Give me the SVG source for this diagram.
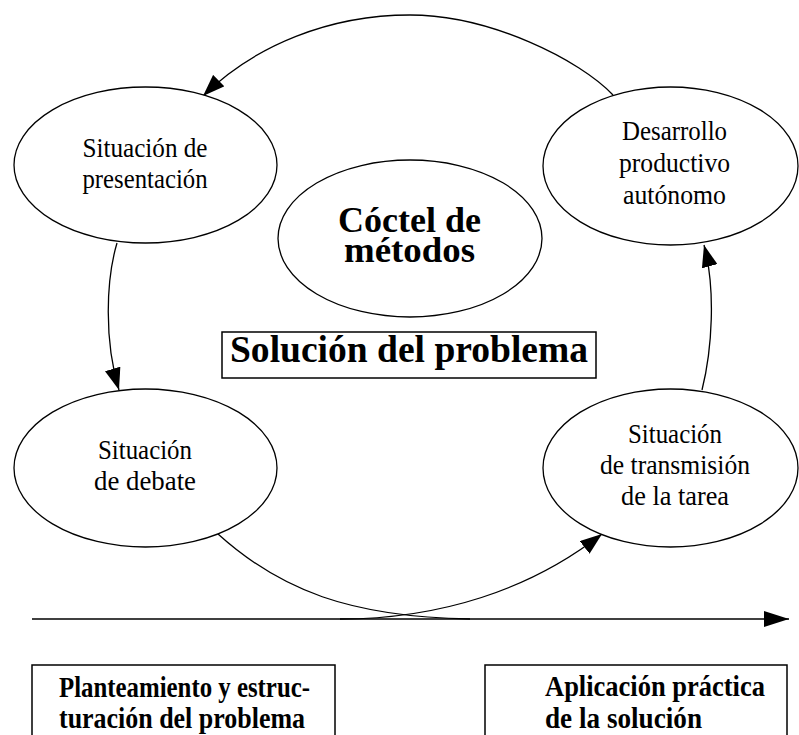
<svg xmlns="http://www.w3.org/2000/svg" width="799" height="735" viewBox="0 0 799 735">
<style>
.node ellipse{fill:#fff;stroke:#000;stroke-width:1.3}
.reg{font-family:"Liberation Serif","Times New Roman",serif;font-size:27px;text-anchor:middle;fill:#000}
.bold{font-family:"Liberation Serif","Times New Roman",serif;font-weight:bold;fill:#000}
.box{fill:#fff;stroke:#000;stroke-width:1.5}
.conn path,.conn line{fill:none;stroke:#000;stroke-width:1.3}
</style>
<defs>
<marker id="ah" viewBox="0 0 22 16" refX="22" refY="8" markerWidth="22" markerHeight="16" markerUnits="userSpaceOnUse" orient="auto">
<path d="M0,0 L22,8 L0,16 z" fill="#000"/>
</marker>
<marker id="ah2" viewBox="0 0 25 16" refX="25" refY="8" markerWidth="25" markerHeight="16" markerUnits="userSpaceOnUse" orient="auto">
<path d="M0,0 L25,8 L0,16 z" fill="#000"/>
</marker>
</defs>
<g id="connectors" class="conn">
<path d="M613,95 C580,60 490,15 410,15 C330,15 255,45 203,96" marker-end="url(#ah)"/>
<path d="M117,243 C106,280 104,340 119,390" marker-end="url(#ah)"/>
<path d="M702,390 C712,350 716,290 704,245" marker-end="url(#ah)"/>
<path d="M218,534 C280,590 350,617 470,619"/>
<path d="M340,619 C440,619 530,590 602,534" marker-end="url(#ah)"/>
<line x1="32" y1="619" x2="789" y2="619" marker-end="url(#ah2)"/>
</g>
<g id="n-presentacion" class="node">
<ellipse cx="145.5" cy="165" rx="131.5" ry="78"/>
<text class="reg" x="145" y="157" textLength="125" lengthAdjust="spacingAndGlyphs">Situación de</text>
<text class="reg" x="145" y="188" textLength="125" lengthAdjust="spacingAndGlyphs">presentación</text>
</g>
<g id="n-desarrollo" class="node">
<ellipse cx="670.5" cy="166" rx="127.5" ry="79"/>
<text class="reg" x="674.5" y="140" textLength="105" lengthAdjust="spacingAndGlyphs">Desarrollo</text>
<text class="reg" x="674.5" y="172" textLength="111" lengthAdjust="spacingAndGlyphs">productivo</text>
<text class="reg" x="674.5" y="204" textLength="103" lengthAdjust="spacingAndGlyphs">autónomo</text>
</g>
<g id="n-coctel" class="node">
<ellipse cx="410" cy="238.5" rx="132" ry="78.5"/>
<text class="bold" x="409.5" y="232" font-size="36" text-anchor="middle" textLength="143" lengthAdjust="spacingAndGlyphs">Cóctel de</text>
<text class="bold" x="409.5" y="262" font-size="36" text-anchor="middle" textLength="131" lengthAdjust="spacingAndGlyphs">métodos</text>
</g>
<g id="n-debate" class="node">
<ellipse cx="145.5" cy="468" rx="131.5" ry="79"/>
<text class="reg" x="145" y="459" textLength="94" lengthAdjust="spacingAndGlyphs">Situación</text>
<text class="reg" x="145" y="490" textLength="102" lengthAdjust="spacingAndGlyphs">de debate</text>
</g>
<g id="n-transmision" class="node">
<ellipse cx="670.5" cy="468" rx="127.5" ry="79"/>
<text class="reg" x="675" y="443" textLength="94" lengthAdjust="spacingAndGlyphs">Situación</text>
<text class="reg" x="675" y="474" textLength="150" lengthAdjust="spacingAndGlyphs">de transmisión</text>
<text class="reg" x="675" y="505" textLength="108" lengthAdjust="spacingAndGlyphs">de la tarea</text>
</g>
<g id="n-solucion">
<rect class="box" x="222" y="332" width="374" height="46"/>
<text class="bold" x="230" y="362" font-size="37" textLength="358" lengthAdjust="spacingAndGlyphs">Solución del problema</text>
</g>
<g id="n-planteamiento">
<rect class="box" x="32" y="665" width="303" height="90"/>
<text class="bold" x="59" y="697" font-size="30" textLength="251" lengthAdjust="spacingAndGlyphs">Planteamiento y estruc-</text>
<text class="bold" x="59" y="728" font-size="30" textLength="246" lengthAdjust="spacingAndGlyphs">turación del problema</text>
</g>
<g id="n-aplicacion">
<rect class="box" x="485" y="665" width="302" height="90"/>
<text class="bold" x="545" y="696" font-size="30" textLength="220" lengthAdjust="spacingAndGlyphs">Aplicación práctica</text>
<text class="bold" x="545" y="728" font-size="30" textLength="157" lengthAdjust="spacingAndGlyphs">de la solución</text>
</g>
</svg>
